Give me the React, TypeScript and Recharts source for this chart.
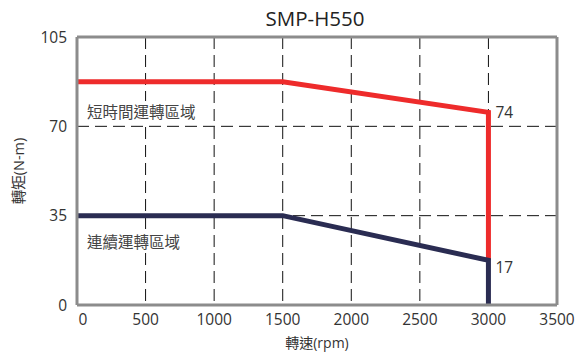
import React from "react"
import { LineChart, Line, XAxis, YAxis, CartesianGrid, ReferenceLine, LabelList, Label } from "recharts"

const title = "SMP-H550"
const xTicks = [0, 500, 1000, 1500, 2000, 2500, 3000, 3500]
const yTicks = [0, 35, 70, 105]

// 短時間運轉 (peak) curve
const peakSpeed = [0, 1500, 3000, 3000]
const peakTorque = [87.5, 87.5, 75.5, 17.5]
const peakLabels = ["", "", "74", ""]

// 連續運轉 (rated) curve
const ratedSpeed = [0, 1500, 3000, 3000]
const ratedTorque = [35, 35, 17.5, 0]
const ratedLabels = ["", "", "17", ""]

const peakData = peakSpeed.map((x, i) => ({ x, y: peakTorque[i], label: peakLabels[i] }))
const ratedData = ratedSpeed.map((x, i) => ({ x, y: ratedTorque[i], label: ratedLabels[i] }))

const FONT = "'Open Sans', 'Noto Sans CJK TC', sans-serif"
const RED = "#ee2b2b"
const NAVY = "#2a2c52"
const BORDER = "#8c8c8c"

function PointLabel(props: any) {
  const { x, y, value } = props
  if (!value) return null
  // the upper label sits level with its point, the lower one a bit below
  const dy = value === "17" ? 13 : 6
  return (
    <text x={x + 7} y={y + dy} fontSize={15.5} fill="#333" fontFamily={FONT}>
      {value}
    </text>
  )
}

function XTick(props: any) {
  const { x, y, payload } = props
  const shift = payload.value === 0 ? 6 : 0
  return (
    <text x={x + shift} y={y + 12} textAnchor="middle" fontSize={15.5} fill="#333" fontFamily={FONT}>
      {payload.value}
    </text>
  )
}

function YTitle(props: any) {
  const { viewBox } = props
  const cy = viewBox.y + viewBox.height / 2
  return (
    <text x={18} y={cy} transform={`rotate(-90 18 ${cy})`} textAnchor="middle" dominantBaseline="central" fontSize={14.5} fill="#333" fontFamily={FONT}>
      轉矩(N-m)
    </text>
  )
}

export default function App() {
  return (
    <div style={{ position: "absolute", left: 0, top: 0, width: 582, height: 358, background: "#fff", fontFamily: FONT }}>
      <div style={{ position: "absolute", left: 0, width: 582, top: 4, textAlign: "center", fontSize: 20.5, color: "#222", paddingLeft: 48, boxSizing: "border-box" }}>
        {title}
      </div>
      <LineChart width={582} height={358} data={peakData} margin={{ top: 37, right: 25, left: 0, bottom: 0 }}>
        <CartesianGrid stroke="#111" strokeDasharray="12 6" strokeWidth={1} />
        <XAxis
          type="number"
          dataKey="x"
          domain={[0, 3500]}
          ticks={xTicks}
          height={53}
          axisLine={{ stroke: BORDER, strokeWidth: 3 }}
          tickLine={false}
          tick={<XTick />}
        >
          <Label value="轉速(rpm)" position="insideBottom" offset={10} style={{ fill: "#333", fontSize: 14, fontFamily: FONT }} />
        </XAxis>
        <YAxis
          type="number"
          domain={[0, 105]}
          ticks={yTicks}
          width={77}
          axisLine={{ stroke: BORDER, strokeWidth: 3 }}
          tickLine={false}
          tick={{ fill: "#333", fontSize: 15.5, fontFamily: FONT }}
          tickMargin={4}
        >
          <Label content={<YTitle />} />
        </YAxis>
        <ReferenceLine x={3500} stroke={BORDER} strokeWidth={3} />
        <ReferenceLine y={105} stroke={BORDER} strokeWidth={3} />
        <Line data={peakData} dataKey="y" stroke={RED} strokeWidth={5} dot={false} isAnimationActive={false} strokeLinejoin="miter">
          <LabelList dataKey="label" content={PointLabel} />
        </Line>
        <Line data={ratedData} dataKey="y" stroke={NAVY} strokeWidth={5} dot={false} isAnimationActive={false} strokeLinejoin="miter">
          <LabelList dataKey="label" content={PointLabel} />
        </Line>
      </LineChart>
      <div style={{ position: "absolute", left: 86, top: 101, fontSize: 15.5, lineHeight: "22px", color: "#444", background: "#fff", padding: "0 1px" }}>短時間運轉區域</div>
      <div style={{ position: "absolute", left: 86, top: 231, fontSize: 15.5, lineHeight: "22px", color: "#444", background: "#fff", padding: "0 1px" }}>連續運轉區域</div>
    </div>
  )
}
